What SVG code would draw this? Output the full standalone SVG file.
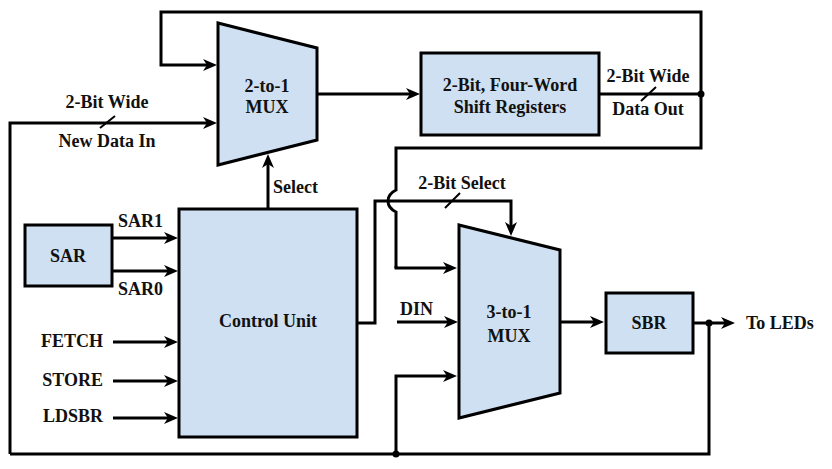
<svg xmlns="http://www.w3.org/2000/svg" width="832" height="469" viewBox="0 0 832 469">
<defs>
<marker id="ah" viewBox="-9 -7 16 14" refX="0" refY="0" markerWidth="16" markerHeight="14" markerUnits="userSpaceOnUse" orient="auto">
<path d="M-8,-6 L6,0 L-8,6 L-4,0 Z" fill="#000"/>
</marker>
</defs>
<rect width="832" height="469" fill="#fff"/>
<g id="connectors" fill="none" stroke="#000" stroke-width="3">
<path marker-end="url(#ah)" d="M701,94 V12 H161 V65 H211"/>
<path d="M599,94 H701 V148 H396 V190 Q388,194 388,201 Q388,208 396,212 V268"/>
<path marker-end="url(#ah)" d="M396,266 V268 H451"/>
<path marker-end="url(#ah)" d="M10,454 V123 H211"/>
<path d="M709,323 V454 H10"/>
<path marker-end="url(#ah)" d="M396,454 V376 H451"/>
<path marker-end="url(#ah)" d="M317,94 H414"/>
<path marker-end="url(#ah)" d="M268,209 V160"/>
<path marker-end="url(#ah)" d="M357,323 H375 V201 H511 V230"/>
<path marker-end="url(#ah)" d="M112,238 H172"/>
<path marker-end="url(#ah)" d="M112,271 H172"/>
<path marker-end="url(#ah)" d="M113,342 H172"/>
<path marker-end="url(#ah)" d="M113,381 H172"/>
<path marker-end="url(#ah)" d="M113,418 H172"/>
<path marker-end="url(#ah)" d="M397,322 H452"/>
<path marker-end="url(#ah)" d="M561,322 H598"/>
<path marker-end="url(#ah)" d="M693,323 H729"/>
<path stroke-width="2" d="M100,128 L115,116 M641,101 L656,87 M445,208 L460,193"/>
<g fill="#000" stroke="none">
<circle cx="701" cy="94" r="3.5"/>
<circle cx="709" cy="323" r="3.5"/>
<circle cx="396" cy="454" r="3.5"/>
</g>
</g>
<g id="labels" font-family="Liberation Serif" font-weight="bold" font-size="18" fill="#111">
<text text-anchor="middle" x="107" y="108">2-Bit Wide</text>
<text text-anchor="middle" x="107" y="147">New Data In</text>
<text text-anchor="middle" x="648" y="82">2-Bit Wide</text>
<text text-anchor="middle" x="648" y="115">Data Out</text>
<text text-anchor="middle" x="462" y="189">2-Bit Select</text>
<text x="273" y="193">Select</text>
<text x="118" y="227">SAR1</text>
<text x="118" y="295">SAR0</text>
<text text-anchor="end" x="103" y="347">FETCH</text>
<text text-anchor="end" x="103" y="386">STORE</text>
<text text-anchor="end" x="103" y="422">LDSBR</text>
<text x="400" y="315">DIN</text>
<text x="746" y="329">To LEDs</text>
</g>
<g stroke="#000" stroke-width="3" font-family="Liberation Serif" font-weight="bold" font-size="18" text-anchor="middle">
<g id="mux2to1">
<polygon fill="#cfe0f2" points="218,23 317,48 317,140 218,165"/>
<text stroke="none" fill="#111" x="267" y="92">2-to-1</text>
<text stroke="none" fill="#111" x="267" y="113">MUX</text>
</g>
<g id="shiftreg">
<rect fill="#cfe0f2" x="421" y="53" width="178" height="82"/>
<text stroke="none" fill="#111" x="510" y="91">2-Bit, Four-Word</text>
<text stroke="none" fill="#111" x="510" y="113">Shift Registers</text>
</g>
<g id="sar">
<rect fill="#cfe0f2" x="25" y="225" width="87" height="61"/>
<text stroke="none" fill="#111" x="68" y="262">SAR</text>
</g>
<g id="control">
<rect fill="#cfe0f2" x="179" y="209" width="178" height="228"/>
<text stroke="none" fill="#111" x="268" y="327">Control Unit</text>
</g>
<g id="mux3to1">
<polygon fill="#cfe0f2" points="459,225 560,250 560,393 459,418"/>
<text stroke="none" fill="#111" x="509" y="318">3-to-1</text>
<text stroke="none" fill="#111" x="509" y="342">MUX</text>
</g>
<g id="sbr">
<rect fill="#cfe0f2" x="606" y="293" width="87" height="60"/>
<text stroke="none" fill="#111" x="649" y="329">SBR</text>
</g>
</g>
</svg>
